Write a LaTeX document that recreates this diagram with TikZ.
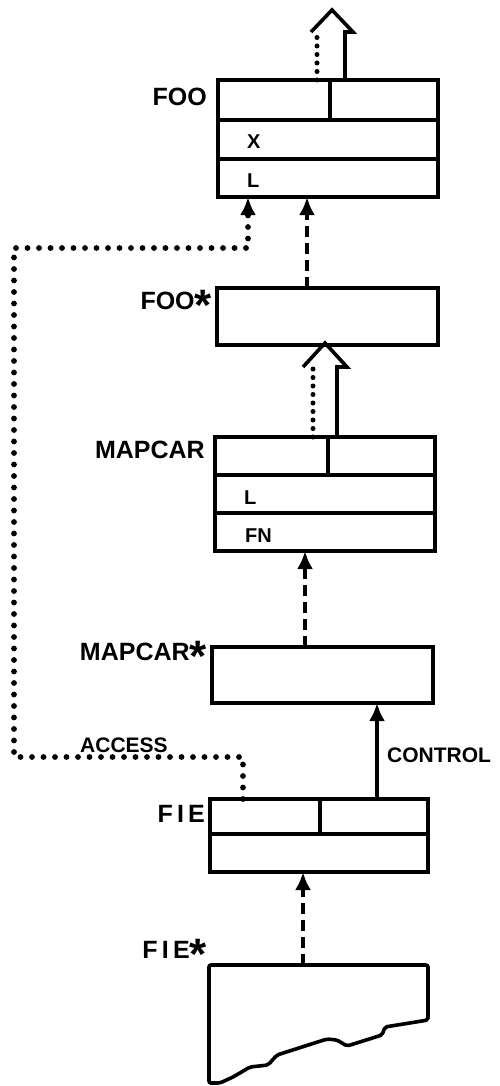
\documentclass[tikz,border=0pt]{standalone}
\usepackage{fontspec}
\setmainfont{Liberation Sans}
\usetikzlibrary{arrows.meta,calc,positioning}

\newcommand{\bigstar}{\raisebox{-11pt}{\fontsize{44}{44}\selectfont *}}

\tikzset{
  frame/.style={draw, line width=3.6pt, inner sep=0pt, outer sep=0pt, anchor=north west},
  rowline/.style={line width=3.6pt},
  name label/.style={font=\fontsize{25}{25}\selectfont\bfseries, inner sep=0pt, anchor=base east},
  slot label/.style={font=\fontsize{20}{20}\selectfont\bfseries, inner sep=0pt, anchor=base west},
  tag label/.style={font=\fontsize{21}{21}\selectfont\bfseries, inner sep=0pt, anchor=base west},
  dashedarrow/.style={line width=3.6pt, dash pattern=on 11pt off 6pt, -{Latex[length=18pt,width=16pt]}},
  ctrlarrow/.style={line width=3.6pt, -{Latex[length=18pt,width=16pt]}},
  dottedarrow/.style={line width=5.8pt, line cap=round, dash pattern=on 0pt off 11.5pt, -{Latex[length=18pt,width=16pt]}},
  dottedshaft/.style={line width=5pt, line cap=round, dash pattern=on 0pt off 8.5pt},
}

\begin{document}
\begin{tikzpicture}[x=1pt, y=-1pt]
  \useasboundingbox (0,0) rectangle (499,1086);
  % columns of the connectors
  \coordinate (cFooDash) at (307,0);
  \coordinate (cMapDash) at (305,0);
  \coordinate (cFieDash) at (303,0);
  \coordinate (cCtrl) at (377,0);
  \coordinate (cAcc) at (243,0);
  \coordinate (cAccTop) at (248,0);
  \coordinate (fooL) at (317,0);
  \coordinate (fooR) at (345,0);
  \coordinate (mapL) at (313,0);
  \coordinate (mapR) at (337,0);
  \coordinate (accLow) at (14,757);
  \coordinate (accHigh) at (14,248);

  % frames
  \node[frame, minimum width=220pt, minimum height=117pt] (foo) at (218,80) {};
  \node[frame, minimum width=221pt, minimum height=57pt] (foostar) at (217,288) {};
  \node[frame, minimum width=220pt, minimum height=114pt] (mapcar) at (215,437) {};
  \node[frame, minimum width=221pt, minimum height=56pt] (mapcarstar) at (212,647) {};
  \node[frame, minimum width=218pt, minimum height=73pt] (fie) at (210,799) {};
  \draw[rowline, rounded corners=2pt] (209,965) -- (428,965) -- (428,1020) -- (385,1027)
    -- (382,1035) -- (347,1046) -- (337,1040) -- (327,1039) -- (277,1055) -- (268,1065)
    -- (250,1067) -- (233,1077) -- (220,1083) -- (209,1083) -- cycle;
  \coordinate (fiestar) at (303,965);

  % slots
  \draw[rowline] ($(foo.north west)+(0,40)$) -- ($(foo.north east)+(0,40)$);
  \draw[rowline] ($(foo.north west)+(0,79)$) -- ($(foo.north east)+(0,79)$);
  \draw[rowline] ($(foo.north west)+(112,0)$) -- ++(0,40);
  \draw[rowline] ($(mapcar.north west)+(0,38)$) -- ($(mapcar.north east)+(0,38)$);
  \draw[rowline] ($(mapcar.north west)+(0,76)$) -- ($(mapcar.north east)+(0,76)$);
  \draw[rowline] ($(mapcar.north west)+(113,0)$) -- ++(0,38);
  \draw[rowline] ($(fie.north west)+(0,35)$) -- ($(fie.north east)+(0,35)$);
  \draw[rowline] ($(fie.north west)+(110,0)$) -- ++(0,35);

  % labels
  \node[name label] at (207,106) {FOO};
  \node[name label] at (212,309) {FOO\bigstar};
  \node[name label] at (205,458) {MAPCAR};
  \node[name label] at (207,660) {MAPCAR\bigstar};
  \node[name label] at (205,822) {F\,I\,E};
  \node[name label] at (207,958) {F\,I\,E\bigstar};
  \node[slot label] at (247,149) {X};
  \node[slot label] at (247,187) {L};
  \node[slot label] at (244,504) {L};
  \node[slot label] at (245,542) {FN};
  \node[tag label] at (80,752) {ACCESS};
  \node[tag label] at (387,762) {CONTROL};

  % hollow arrows
  \draw[rowline] (foo.north -| fooR) -- ++(0,-48) -- ++(8,0) -- ++(-21,-22) -- ++(-21,22);
  \draw[dottedshaft] (foo.north -| fooL) -- ++(0,-48);
  \draw[rowline] (mapcar.north -| mapR) -- ++(0,-70) -- ++(10,0) -- ++(-22,-24) -- ++(-22,24);
  \draw[dottedshaft] (mapcar.north -| mapL) -- ++(0,-70);

  % connectors
  \draw[dashedarrow] (foostar.north -| cFooDash) -- (foo.south -| cFooDash);
  \draw[dashedarrow] (mapcarstar.north -| cMapDash) -- (mapcar.south -| cMapDash);
  \draw[dashedarrow] (fiestar) -- (fie.south -| cFieDash);
  \draw[ctrlarrow] (fie.north -| cCtrl) -- (mapcarstar.south -| cCtrl);
  \draw[dottedarrow] (fie.north -| cAcc) |- (accLow) -- (accHigh) -| (foo.south -| cAccTop);
\end{tikzpicture}
\end{document}
